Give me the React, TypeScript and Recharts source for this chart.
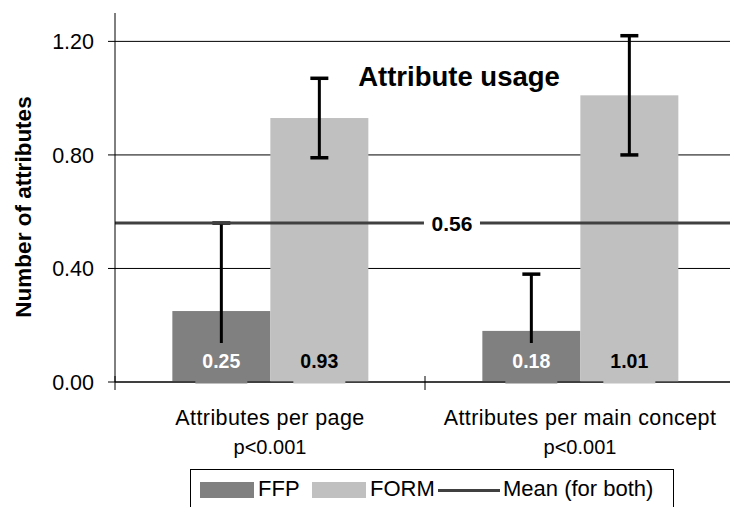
import {
  BarChart,
  Bar,
  XAxis,
  YAxis,
  CartesianGrid,
  ReferenceLine,
  LabelList,
  Legend,
} from "recharts";

const categories = ["Attributes per page", "Attributes per main concept"];
const pValues = ["p<0.001", "p<0.001"];
const ffpValues = [0.25, 0.18];
const formValues = [0.93, 1.01];
const ffpErrors = [0.31, 0.2];
const formErrors = [0.14, 0.21];
const meanBoth = 0.56;
const yTicks = [0, 0.4, 0.8, 1.2];

const data = categories.map((name, i) => ({
  name,
  p: pValues[i],
  ffp: ffpValues[i],
  form: formValues[i],
  ffpErr: ffpErrors[i],
  formErr: formErrors[i],
}));

const FONT = "'Liberation Sans', Arial, sans-serif";
const FFP_COLOR = "#808080";
const FORM_COLOR = "#c0c0c0";
const MEAN_COLOR = "#404040";

// bar + error bar; lower part is clipped at the axis like Excel does
function barWithError(valueKey: string, errKey: string) {
  return (props: any) => {
    const { x, y, width, height, fill, payload } = props;
    const v = payload[valueKey];
    const e = payload[errKey];
    const k = height / v;
    const base = y + height;
    const cx = x + width / 2;
    const top = base - (v + e) * k;
    const low = base - Math.max(0, v - e) * k;
    return (
      <g>
        <rect x={x} y={y} width={width} height={height} fill={fill} />
        <line x1={cx} x2={cx} y1={top} y2={low} stroke="#000" strokeWidth={3} />
        <line x1={cx - 9} x2={cx + 9} y1={top} y2={top} stroke="#000" strokeWidth={3.5} />
        {v - e > 0 && (
          <line x1={cx - 9} x2={cx + 9} y1={low} y2={low} stroke="#000" strokeWidth={3.5} />
        )}
      </g>
    );
  };
}

function dataLabel(boxFill: string, textFill: string) {
  return (props: any) => {
    const { x, y, width, height, value } = props;
    const cx = x + width / 2;
    const base = y + height;
    return (
      <g>
        <rect x={cx - 26} y={base - 39} width={52} height={40.5} fill={boxFill} />
        <text
          x={cx}
          y={base - 21}
          textAnchor="middle"
          dominantBaseline="central"
          fontSize={19.5}
          fontWeight="bold"
          fill={textFill}
          fontFamily={FONT}
        >
          {Number(value).toFixed(2)}
        </text>
      </g>
    );
  };
}

const CategoryTick = (props: any) => {
  const { x, y, payload, index } = props;
  const half = payload.offset || 155;
  return (
    <g>
      <line x1={x - half} x2={x - half} y1={y - 6} y2={y + 8} stroke="#000" />
      <text x={x} y={y + 43} textAnchor="middle" fontSize={21.5} letterSpacing={0.4} fill="#000" fontFamily={FONT}>
        {payload.value}
      </text>
      <text x={x} y={y + 72} textAnchor="middle" fontSize={20} fill="#000" fontFamily={FONT}>
        {data[index].p}
      </text>
    </g>
  );
};

const MeanLabel = (props: any) => {
  const { viewBox } = props;
  if (!viewBox) return null;
  const cx = viewBox.x + viewBox.width * 0.5435;
  return (
    <g>
      <rect x={cx - 28} y={viewBox.y - 12} width={56} height={24} fill="#fff" />
      <text
        x={cx}
        y={viewBox.y}
        textAnchor="middle"
        dominantBaseline="central"
        fontSize={21}
        fontWeight="bold"
        fill="#000"
        fontFamily={FONT}
      >
        {meanBoth.toFixed(2)}
      </text>
    </g>
  );
};

const LegendBox = () => (
  <div
    style={{
      position: "relative",
      width: 484,
      height: 38,
      boxSizing: "border-box",
      border: "1px solid #000",
      borderBottom: "none",
      background: "#fff",
      fontFamily: FONT,
      fontSize: 22,
      color: "#000",
    }}
  >
    <span style={{ position: "absolute", left: 9, top: 12, width: 54, height: 16, background: FFP_COLOR }} />
    <span style={{ position: "absolute", left: 67, top: 6, lineHeight: "26px" }}>FFP</span>
    <span style={{ position: "absolute", left: 121, top: 12, width: 54, height: 16, background: FORM_COLOR }} />
    <span style={{ position: "absolute", left: 179, top: 6, lineHeight: "26px" }}>FORM</span>
    <span style={{ position: "absolute", left: 247, top: 19, width: 62, height: 3, background: MEAN_COLOR }} />
    <span style={{ position: "absolute", left: 312, top: 6, lineHeight: "26px" }}>Mean (for both)</span>
  </div>
);

export default function App() {
  return (
    <div style={{ position: "relative", width: 730, height: 507, overflow: "hidden", background: "#fff" }}>
      <style>{"html,body{margin:0;overflow:hidden;}"}</style>
      <BarChart
        width={730}
        height={507}
        data={data}
        margin={{ top: 13, right: -5, left: 0, bottom: 0 }}
        barCategoryGap="18.5%"
        barGap={0}
      >
        <CartesianGrid vertical={false} syncWithTicks stroke="#000" strokeWidth={1} />
        <XAxis
          dataKey="name"
          interval={0}
          height={125}
          tickLine={false}
          tickSize={0}
          tickMargin={0}
          axisLine={{ stroke: "#000" }}
          tick={<CategoryTick />}
        />
        <YAxis
          width={115}
          domain={[0, 1.3]}
          ticks={yTicks}
          tickFormatter={(v: number) => v.toFixed(2)}
          axisLine={{ stroke: "#000" }}
          tickLine={{ stroke: "#000" }}
          tickSize={7}
          tickMargin={14}
          tick={{ fontSize: 21.5, fill: "#000", fontFamily: FONT }}
        />
        <Bar dataKey="ffp" name="FFP" fill={FFP_COLOR} isAnimationActive={false} shape={barWithError("ffp", "ffpErr")}>
          <LabelList dataKey="ffp" content={dataLabel(FFP_COLOR, "#fff")} />
        </Bar>
        <Bar dataKey="form" name="FORM" fill={FORM_COLOR} isAnimationActive={false} shape={barWithError("form", "formErr")}>
          <LabelList dataKey="form" content={dataLabel(FORM_COLOR, "#000")} />
        </Bar>
        <ReferenceLine y={meanBoth} stroke={MEAN_COLOR} strokeWidth={3} label={<MeanLabel />} />
        <Legend
          layout="horizontal"
          verticalAlign="middle"
          align="center"
          wrapperStyle={{ left: 190, top: 469, width: 484, height: 38 }}
          content={() => <LegendBox />}
        />
        <text x={459} y={86} textAnchor="middle" fontSize={27.5} fontWeight="bold" fill="#000" fontFamily={FONT}>
          Attribute usage
        </text>
        <text
          x={23}
          y={207}
          transform="rotate(-90 23 207)"
          textAnchor="middle"
          dominantBaseline="central"
          fontSize={22.5}
          fontWeight="bold"
          fill="#000"
          fontFamily={FONT}
        >
          Number of attributes
        </text>
      </BarChart>
    </div>
  );
}
